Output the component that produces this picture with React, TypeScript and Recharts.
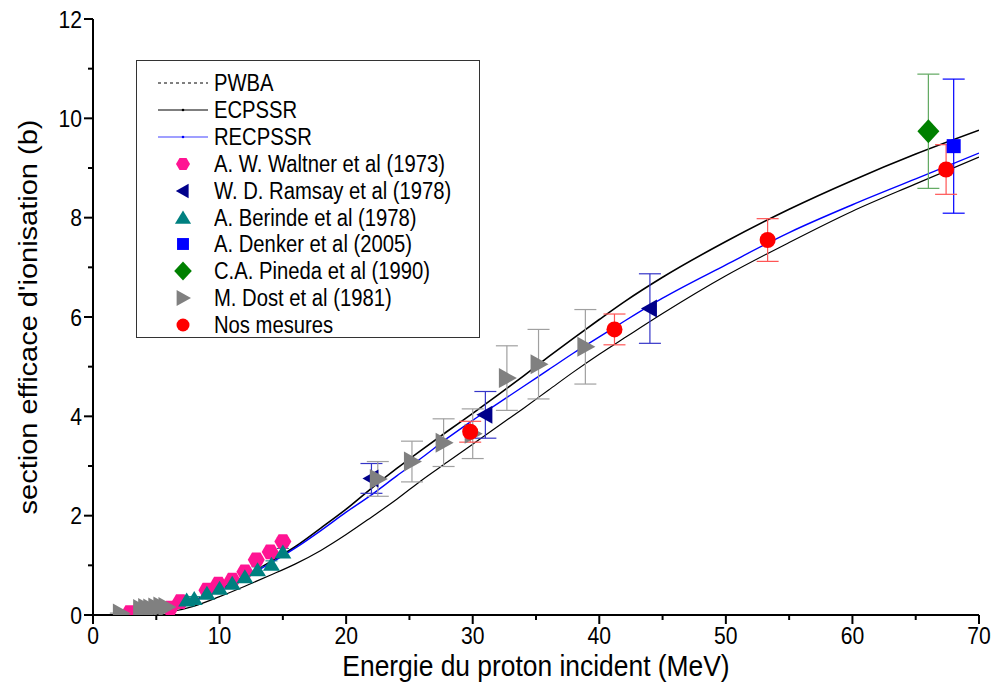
import React from "react";
import { ComposedChart, Line, Scatter, ErrorBar, XAxis, YAxis } from "recharts";

// theoretical curves (energy in MeV, cross section in barn)
const curveEnergy = [0, 1, 2, 4, 6, 8, 10, 12, 14, 16, 18, 20, 22, 24, 26, 28, 30, 32, 34, 36, 38, 40, 42, 45, 50, 55, 60, 65, 70];
const pwbaValues = [0, 0.002, 0.01, 0.05, 0.15, 0.3, 0.52, 0.78, 1.07, 1.38, 1.75, 2.13, 2.55, 2.95, 3.33, 3.7, 4.06, 4.43, 4.81, 5.2, 5.58, 5.95, 6.31, 6.8, 7.52, 8.17, 8.75, 9.28, 9.76];
const ecpssrValues = [0, 0.001, 0.003, 0.02, 0.06, 0.18, 0.37, 0.58, 0.8, 1.03, 1.3, 1.62, 1.97, 2.33, 2.72, 3.08, 3.44, 3.8, 4.16, 4.53, 4.9, 5.25, 5.58, 6.07, 6.83, 7.5, 8.13, 8.68, 9.22];
const recpssrValues = [0, 0.002, 0.01, 0.05, 0.14, 0.29, 0.5, 0.76, 1.04, 1.35, 1.7, 2.07, 2.42, 2.8, 3.17, 3.56, 3.92, 4.26, 4.6, 4.94, 5.28, 5.6, 5.92, 6.38, 7.05, 7.7, 8.26, 8.78, 9.3];

// experimental data
const waltnerE = [2.9, 6.1, 6.9, 9.0, 9.9, 11.0, 12.0, 12.9, 14.0, 15.0];
const waltnerS = [0.05, 0.14, 0.27, 0.5, 0.62, 0.7, 0.87, 1.11, 1.27, 1.48];
const waltnerErr = [0.03, 0.04, 0.05, 0.05, 0.05, 0.06, 0.06, 0.07, 0.07, 0.08];

const ramsayE = [22.0, 31.0, 44.0];
const ramsayS = [2.75, 4.03, 6.17];
const ramsayErr = [0.3, 0.47, 0.7];

const berindeE = [7.4, 8.0, 9.0, 10.0, 11.0, 12.0, 13.0, 14.1, 15.0];
const berindeS = [0.29, 0.32, 0.43, 0.53, 0.63, 0.76, 0.9, 1.01, 1.26];
const berindeErr = [0.05, 0.05, 0.05, 0.06, 0.06, 0.07, 0.07, 0.08, 0.08];

const denkerE = [68.0];
const denkerS = [9.44];
const denkerErr = [1.35];

const pinedaE = [66.0];
const pinedaS = [9.74];
const pinedaErr = [1.15];

const dostE = [2.2, 3.8, 4.2, 4.6, 5.0, 5.4, 5.8, 22.5, 25.2, 27.7, 30.0, 32.7, 35.2, 38.9];
const dostS = [0.03, 0.12, 0.14, 0.13, 0.15, 0.17, 0.16, 2.74, 3.09, 3.47, 3.65, 4.77, 5.05, 5.4];
const dostErr = [0.01, 0.02, 0.02, 0.02, 0.02, 0.03, 0.03, 0.35, 0.41, 0.48, 0.5, 0.65, 0.7, 0.75];

const nosE = [29.8, 41.2, 53.3, 67.4];
const nosS = [3.69, 5.75, 7.55, 8.97];
const nosErr = [0.21, 0.31, 0.43, 0.5];

const xTicks = [0, 5, 10, 15, 20, 25, 30, 35, 40, 45, 50, 55, 60, 65, 70];
const yTicks = [0, 1, 2, 3, 4, 5, 6, 7, 8, 9, 10, 11, 12];

const curve = (vals: number[]) => curveEnergy.map((x, i) => ({ x, y: vals[i] }));
const points = (e: number[], s: number[], err: number[]) => e.map((x, i) => ({ x, y: s[i], e: err[i] }));

const FONT = "'Liberation Sans', Arial, sans-serif";
const SQUEEZE = 0.88;

// marker shapes
const Hexagon = ({ cx, cy, fill = "#ff1493", r = 8.5 }: any) => {
  const pts = [0, 60, 120, 180, 240, 300]
    .map((a) => `${cx + r * Math.cos((a * Math.PI) / 180)},${cy + r * Math.sin((a * Math.PI) / 180)}`)
    .join(" ");
  return <polygon points={pts} fill={fill} />;
};
const TriLeft = ({ cx, cy, fill = "#00008b", s = 1 }: any) => (
  <polygon points={`${cx - 9 * s},${cy} ${cx + 7 * s},${cy - 9 * s} ${cx + 7 * s},${cy + 9 * s}`} fill={fill} />
);
const TriRight = ({ cx, cy, fill = "#808080", s = 1 }: any) => (
  <polygon points={`${cx + 10 * s},${cy} ${cx - 8 * s},${cy - 10 * s} ${cx - 8 * s},${cy + 10 * s}`} fill={fill} />
);
const TriUp = ({ cx, cy, fill = "#008080", s = 1 }: any) => (
  <polygon points={`${cx},${cy - 8 * s} ${cx + 8.5 * s},${cy + 6 * s} ${cx - 8.5 * s},${cy + 6 * s}`} fill={fill} />
);
const Square = ({ cx, cy, fill = "#0000ff", s = 1 }: any) => (
  <rect x={cx - 7 * s} y={cy - 7 * s} width={14 * s} height={14 * s} fill={fill} />
);
const Diamond = ({ cx, cy, fill = "#008000", s = 1 }: any) => (
  <polygon points={`${cx},${cy - 12 * s} ${cx + 11 * s},${cy} ${cx},${cy + 12 * s} ${cx - 11 * s},${cy}`} fill={fill} />
);
const Dot = ({ cx, cy, fill = "#ff0000", r = 8 }: any) => <circle cx={cx} cy={cy} r={r} fill={fill} />;

// axis ticks
const BottomTick = ({ x, y, payload }: any) => {
  const major = payload.value % 10 === 0;
  return (
    <g>
      <line x1={x} y1={y} x2={x} y2={y + (major ? 9 : 5)} stroke="#000" strokeWidth={2} />
      {major && (
        <text transform={`translate(${x},${y + 29}) scale(${SQUEEZE},1)`} textAnchor="middle" fontSize={24} fontFamily={FONT} fill="#000">
          {payload.value}
        </text>
      )}
    </g>
  );
};
const LeftTick = ({ x, y, payload }: any) => {
  const major = payload.value % 2 === 0;
  return (
    <g>
      <line x1={x} y1={y} x2={x - (major ? 9 : 5)} y2={y} stroke="#000" strokeWidth={2} />
      {major && (
        <text transform={`translate(${x - 11},${y + 8.5}) scale(${SQUEEZE},1)`} textAnchor="end" fontSize={24} fontFamily={FONT} fill="#000">
          {payload.value}
        </text>
      )}
    </g>
  );
};
const TopTick = ({ x, y, payload }: any) => {
  const major = payload.value % 10 === 0;
  return <line x1={x} y1={y} x2={x} y2={y + (major ? 10 : 5)} stroke="#000" strokeWidth={2} />;
};
const RightTick = ({ x, y, payload }: any) => {
  const major = payload.value % 2 === 0;
  return <line x1={x} y1={y} x2={x - (major ? 10 : 5)} y2={y} stroke="#000" strokeWidth={2} />;
};

const XTitle = ({ viewBox }: any) => (
  <text transform={`translate(${viewBox.x + viewBox.width / 2},${viewBox.y + 61}) scale(${SQUEEZE},1)`} textAnchor="middle" fontSize={30} fontFamily={FONT} fill="#000">
    Energie du proton incident (MeV)
  </text>
);
const YTitle = ({ viewBox }: any) => (
  <text transform={`translate(37,${viewBox.y + viewBox.height / 2}) rotate(-90) scale(1,${SQUEEZE})`} textAnchor="middle" fontSize={29} fontFamily={FONT} fill="#000">
    section efficace d'ionisation (b)
  </text>
);

const legendRows: { label: string; icon: React.ReactNode }[] = [
  { label: "PWBA", icon: <line x1={2} y1={10} x2={52} y2={10} stroke="#000" strokeWidth={1} strokeDasharray="3 3" /> },
  {
    label: "ECPSSR",
    icon: (
      <g>
        <line x1={2} y1={10} x2={52} y2={10} stroke="#000" strokeWidth={1.2} />
        <circle cx={27} cy={10} r={1.3} fill="#000" />
      </g>
    ),
  },
  {
    label: "RECPSSR",
    icon: (
      <g>
        <line x1={2} y1={10} x2={52} y2={10} stroke="#4040ff" strokeWidth={1.2} />
        <circle cx={27} cy={10} r={1.3} fill="#0000ff" />
      </g>
    ),
  },
  { label: "A. W. Waltner et al (1973)", icon: <Hexagon cx={27} cy={10} r={7} /> },
  { label: "W. D. Ramsay et al (1978)", icon: <TriLeft cx={27} cy={10} s={0.8} /> },
  { label: "A. Berinde et al (1978)", icon: <TriUp cx={27} cy={10} s={0.95} /> },
  { label: "A. Denker et al (2005)", icon: <Square cx={27} cy={10} s={0.85} /> },
  { label: "C.A. Pineda et al (1990)", icon: <Diamond cx={27} cy={10} s={0.8} /> },
  { label: "M. Dost et al (1981)", icon: <TriRight cx={27} cy={10} s={0.8} /> },
  { label: "Nos mesures", icon: <Dot cx={27} cy={10} r={6.5} /> },
];

const ChartLegend = () => (
  <div
    style={{
      position: "absolute",
      left: 136,
      top: 60,
      width: 344,
      height: 278,
      border: "1.5px solid #333",
      boxSizing: "border-box",
      background: "#fff",
      fontFamily: FONT,
    }}
  >
    {legendRows.map((r, i) => (
      <div key={r.label} style={{ position: "absolute", left: 19, top: 12 + i * 26.9, height: 20, display: "flex", alignItems: "center", whiteSpace: "nowrap" }}>
        <svg width={56} height={20} style={{ display: "block" }}>
          {r.icon}
        </svg>
        <span style={{ fontSize: 23, marginLeft: 2, display: "inline-block", transform: `scaleX(${SQUEEZE})`, transformOrigin: "left center", lineHeight: "20px" }}>
          {r.label}
        </span>
      </div>
    ))}
  </div>
);

export default function App() {
  return (
    <div style={{ position: "absolute", left: 0, top: 0, width: 993, height: 688, background: "#fff" }}>
      <ComposedChart width={993} height={688} margin={{ top: 19, right: 14, bottom: 23, left: 33 }}>
        <XAxis
          xAxisId="bottom"
          dataKey="x"
          type="number"
          domain={[0, 70]}
          ticks={xTicks}
          interval={0}
          allowDataOverflow
          height={50}
          tickSize={0}
          tickMargin={0}
          tick={<BottomTick />}
          axisLine={{ stroke: "#000", strokeWidth: 2 }}
          label={<XTitle />}
        />
        <XAxis
          xAxisId="top"
          orientation="top"
          dataKey="x"
          type="number"
          domain={[0, 70]}
          ticks={xTicks}
          interval={0}
          allowDataOverflow
          height={0}
          tickSize={0}
          tickMargin={0}
          tick={<TopTick />}
          axisLine={{ stroke: "#000", strokeWidth: 2 }}
        />
        <YAxis
          yAxisId="left"
          dataKey="y"
          type="number"
          domain={[0, 12]}
          ticks={yTicks}
          interval={0}
          allowDataOverflow
          width={60}
          tickSize={0}
          tickMargin={0}
          tick={<LeftTick />}
          axisLine={{ stroke: "#000", strokeWidth: 2 }}
          label={<YTitle />}
        />
        <YAxis
          yAxisId="right"
          orientation="right"
          dataKey="y"
          type="number"
          domain={[0, 12]}
          ticks={yTicks}
          interval={0}
          allowDataOverflow
          width={0}
          tickSize={0}
          tickMargin={0}
          tick={<RightTick />}
          axisLine={{ stroke: "#000", strokeWidth: 2 }}
        />

        <Line xAxisId="bottom" yAxisId="left" data={curve(ecpssrValues)} dataKey="y" type="monotone" stroke="#000" strokeWidth={1.2} dot={false} isAnimationActive={false} />
        <Line xAxisId="bottom" yAxisId="left" data={curve(pwbaValues)} dataKey="y" type="monotone" stroke="#000" strokeWidth={1.6} dot={false} isAnimationActive={false} />
        <Line xAxisId="bottom" yAxisId="left" data={curve(recpssrValues).slice(1)} dataKey="y" type="monotone" stroke="#0000ff" strokeWidth={1.4} dot={false} isAnimationActive={false} />

        <Scatter xAxisId="bottom" yAxisId="left" data={points(waltnerE, waltnerS, waltnerErr)} dataKey="y" shape={(p: any) => <Hexagon cx={p.cx} cy={p.cy} />} isAnimationActive={false}>
          <ErrorBar dataKey="e" direction="y" width={6} stroke="#ff1493" strokeWidth={1} />
        </Scatter>
        <Scatter xAxisId="bottom" yAxisId="left" data={points(ramsayE, ramsayS, ramsayErr)} dataKey="y" shape={(p: any) => <TriLeft cx={p.cx} cy={p.cy} />} isAnimationActive={false}>
          <ErrorBar dataKey="e" direction="y" width={11} stroke="#3535c8" strokeWidth={1.2} />
        </Scatter>
        <Scatter xAxisId="bottom" yAxisId="left" data={points(berindeE, berindeS, berindeErr)} dataKey="y" shape={(p: any) => <TriUp cx={p.cx} cy={p.cy} />} isAnimationActive={false}>
          <ErrorBar dataKey="e" direction="y" width={6} stroke="#008080" strokeWidth={1} />
        </Scatter>
        <Scatter xAxisId="bottom" yAxisId="left" data={points(denkerE, denkerS, denkerErr)} dataKey="y" shape={(p: any) => <Square cx={p.cx} cy={p.cy} />} isAnimationActive={false}>
          <ErrorBar dataKey="e" direction="y" width={11} stroke="#0000ff" strokeWidth={1.2} />
        </Scatter>
        <Scatter xAxisId="bottom" yAxisId="left" data={points(pinedaE, pinedaS, pinedaErr)} dataKey="y" shape={(p: any) => <Diamond cx={p.cx} cy={p.cy} />} isAnimationActive={false}>
          <ErrorBar dataKey="e" direction="y" width={11} stroke="#5fa85f" strokeWidth={1.2} />
        </Scatter>
        <Scatter xAxisId="bottom" yAxisId="left" data={points(dostE, dostS, dostErr)} dataKey="y" shape={(p: any) => <TriRight cx={p.cx} cy={p.cy} />} isAnimationActive={false}>
          <ErrorBar dataKey="e" direction="y" width={11} stroke="#a0a0a0" strokeWidth={1.2} />
        </Scatter>
        <Scatter xAxisId="bottom" yAxisId="left" data={points(nosE, nosS, nosErr)} dataKey="y" shape={(p: any) => <Dot cx={p.cx} cy={p.cy} />} isAnimationActive={false}>
          <ErrorBar dataKey="e" direction="y" width={11} stroke="#ff5555" strokeWidth={1.2} />
        </Scatter>
      </ComposedChart>
      <ChartLegend />
    </div>
  );
}
